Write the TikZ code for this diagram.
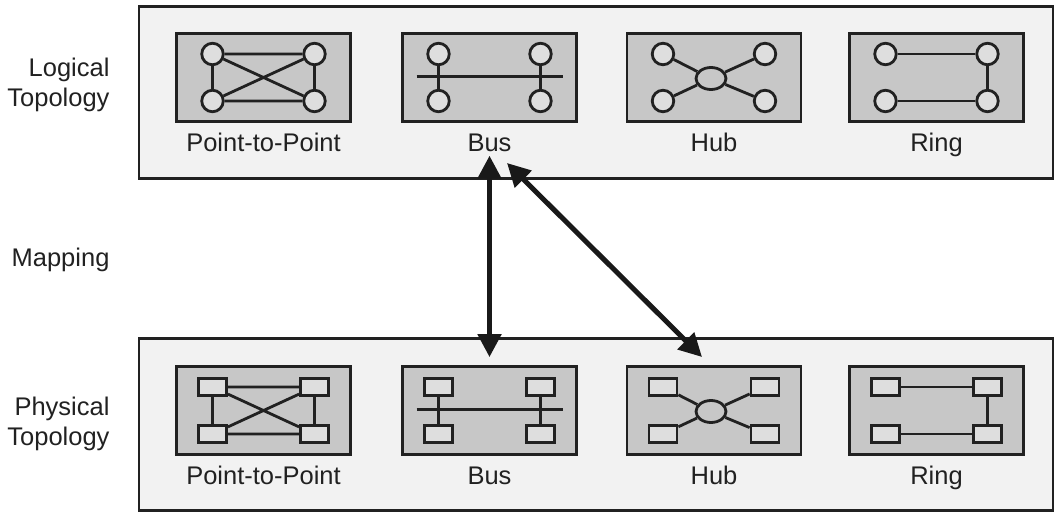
\documentclass[tikz,border=0pt]{standalone}
\usepackage{fontspec}
\setmainfont{Liberation Sans}
\usetikzlibrary{arrows.meta,calc,positioning,shapes.geometric}
\tikzset{
    layerbox/.style={draw=black!87,line width=2.6pt,fill=black!5,minimum width=914pt,minimum height=172pt,inner sep=0pt},
    topobox/.style={draw=black!87,line width=2.8pt,fill=black!22,minimum width=174pt,minimum height=88pt,inner sep=0pt},
    station/.style={circle,draw=black!87,line width=2.8pt,fill=black!13,minimum size=21.5pt,inner sep=0pt},
    device/.style={rectangle,draw=black!87,line width=2.8pt,fill=black!13,minimum width=28pt,minimum height=17pt,inner sep=0pt},
    hubnode/.style={ellipse,draw=black!87,line width=2.8pt,fill=black!22,minimum width=30pt,minimum height=22pt,inner sep=0pt},
    link/.style={draw=black!87,line width=2.8pt},
    maparrow/.style={{Triangle[length=23pt,width=23pt]}-{Triangle[length=23pt,width=23pt]},line width=5pt,draw=black!90},
    every node/.style={font=\fontsize{25.5}{30}\selectfont,text=black!87}
}

\begin{document}
\begin{tikzpicture}[x=1pt,y=-1pt]
  \useasboundingbox (0,0) rectangle (1056,513);
  \node[layerbox] (logical) at (596,92.5) {};
  \node[layerbox] (physical) at (596,424.5) {};
  \node[align=right,anchor=base east] (logical-lbl) at (113,107) {Logical\\Topology};
  \node[anchor=base east] (mapping-lbl) at (113,266) {Mapping};
  \node[align=right,anchor=base east] (physical-lbl) at (113,445) {Physical\\Topology};
  % the four topologies, once with stations and once with devices
  \foreach \row/\y/\kind in {logical/77.5/station,physical/410.5/device}{
    \foreach \name/\x/\txt in {p2p/263.5/Point-to-Point,bus/489.5/Bus,hub/714/Hub,ring/936.5/Ring}{
      \node[topobox] (\row-\name) at (\x,\y) {};
      \node[anchor=base] (\row-\name-lbl) at ($(\row-\name.south)+(0,29)$) {\txt};
      \foreach \c/\dx/\dy in {nw/-51/-23.5,ne/51/-23.5,sw/-51/23.5,se/51/23.5}
        \node[\kind] (\row-\name-\c) at ($(\row-\name)+(\dx,\dy)$) {};
    }
    \draw[link] (\row-p2p-nw)--(\row-p2p-ne) (\row-p2p-sw)--(\row-p2p-se)
                (\row-p2p-nw)--(\row-p2p-sw) (\row-p2p-ne)--(\row-p2p-se)
                (\row-p2p-nw)--(\row-p2p-se) (\row-p2p-ne)--(\row-p2p-sw);
    \coordinate (\row-bus-l) at ($(\row-bus)+(-73,-1)$);
    \coordinate (\row-bus-r) at ($(\row-bus)+(73,-1)$);
    \draw[link] (\row-bus-l)--(\row-bus-r);
    \draw[link] (\row-bus-nw)--(\row-bus-sw) (\row-bus-ne)--(\row-bus-se);
    \node[hubnode] (\row-hub-c) at ($(\row-hub)+(-3,1)$) {};
    \foreach \c in {nw,ne,sw,se}
      \draw[link] (\row-hub-\c)--(\row-hub-c);
    \draw[link] (\row-ring-nw)--(\row-ring-ne)--(\row-ring-se)--(\row-ring-sw)--cycle;
  }
  % mapping arrows
  \coordinate (bus-foot) at (507,163);
  \coordinate (hub-top) at (702,357);
  \draw[maparrow] (logical-bus-lbl.south) -- ($(physical-bus.north)+(0,-8)$);
  \draw[maparrow] (bus-foot) -- (hub-top);
\end{tikzpicture}
\end{document}
